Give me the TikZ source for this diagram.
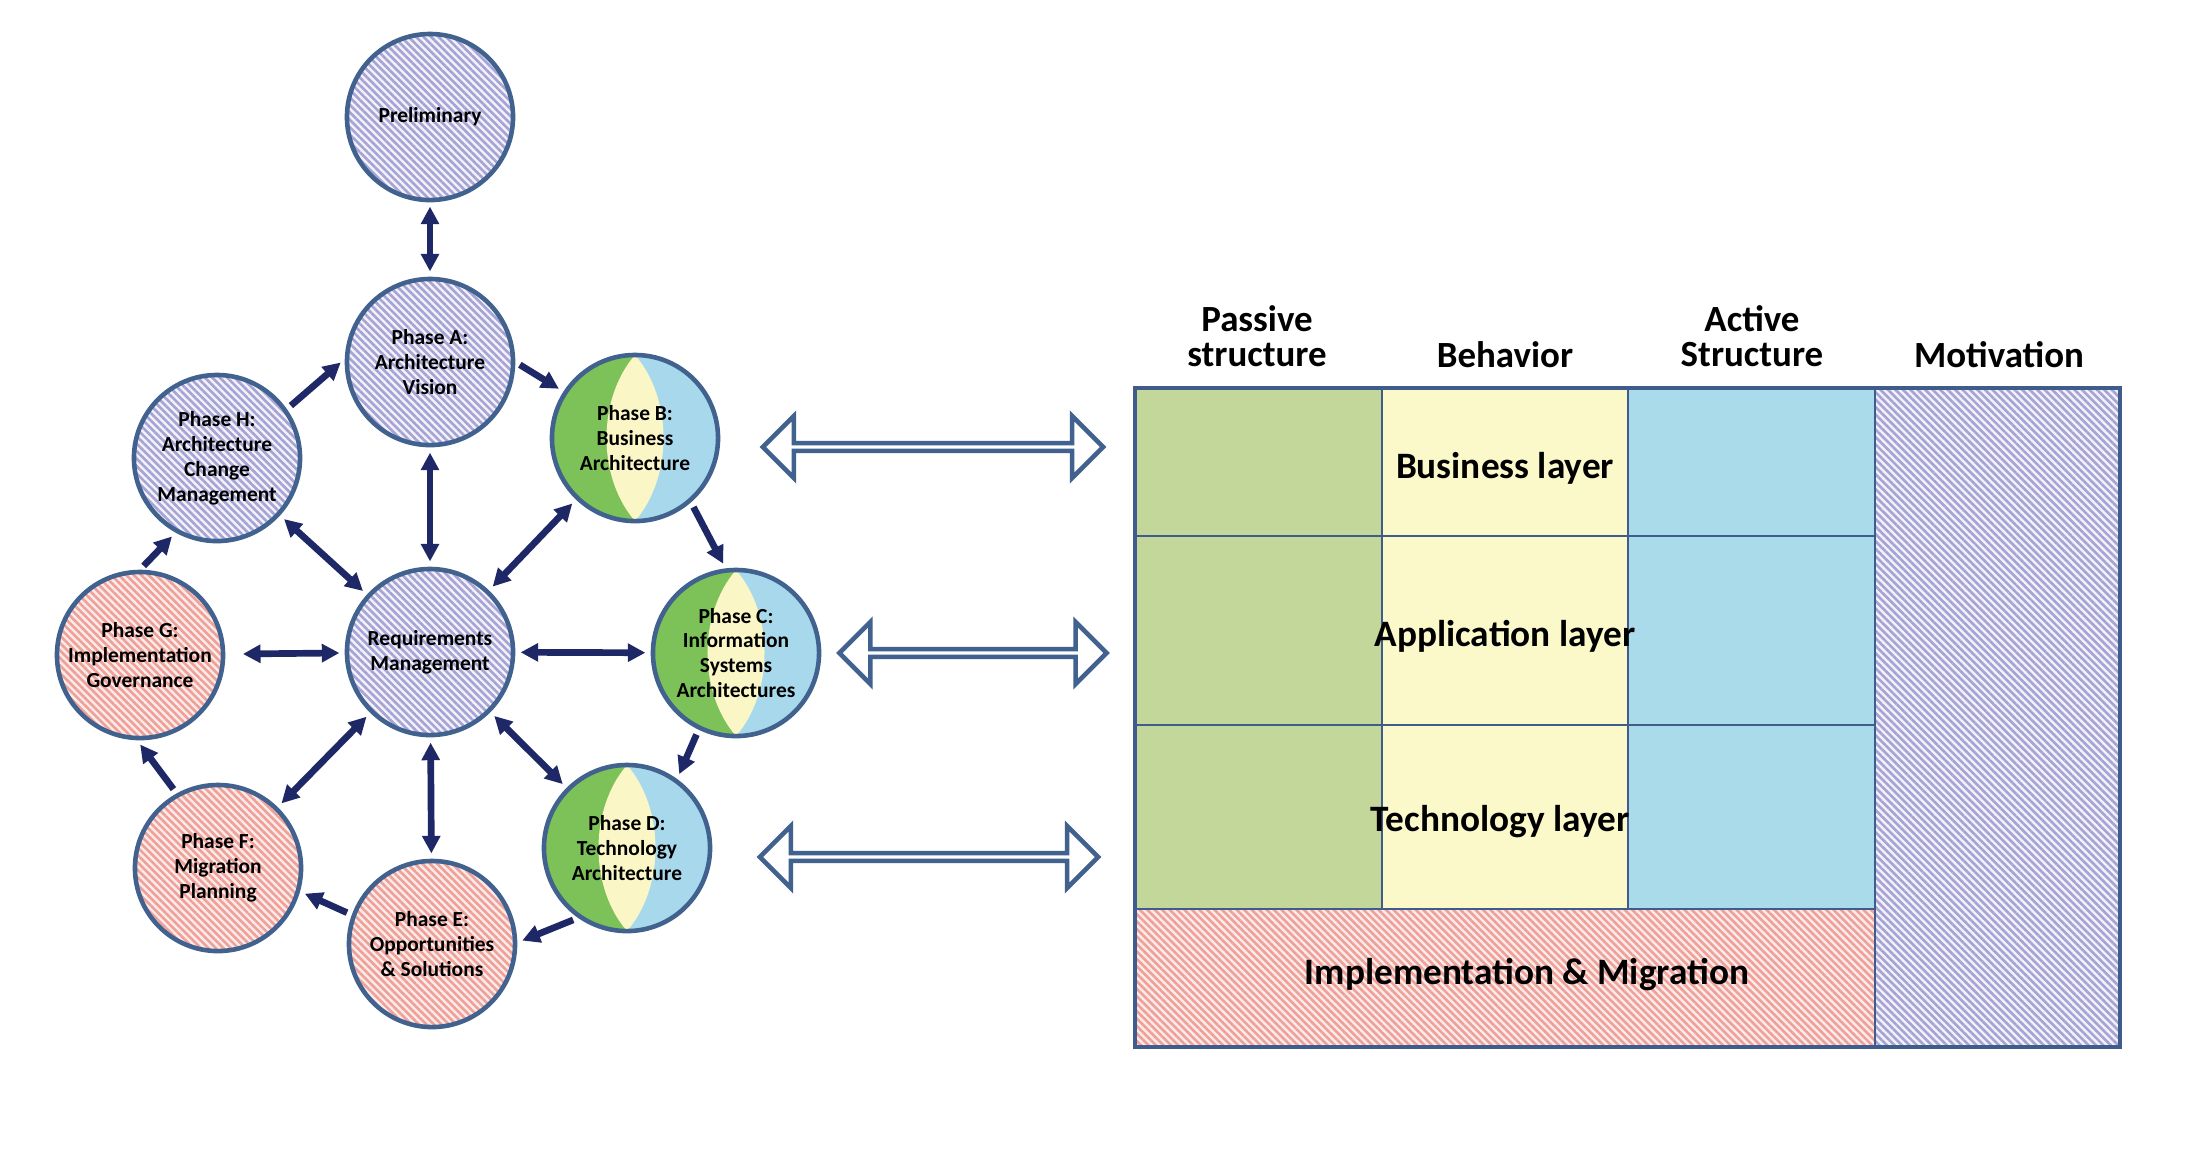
\documentclass[tikz,border=0pt]{standalone}
\usepackage{fontspec}
\setmainfont{Carlito}
\usetikzlibrary{arrows.meta,shapes.arrows,patterns.meta}

\definecolor{ringborder}{HTML}{41618F}
\definecolor{linkblue}{HTML}{1F2866}
\definecolor{gridline}{HTML}{3F5C8C}
\definecolor{passivegreen}{HTML}{C3D79B}
\definecolor{behavioryellow}{HTML}{FBF8CA}
\definecolor{activeblue}{HTML}{A9DBEA}
\definecolor{phasegreen}{HTML}{7DC159}
\definecolor{phaseyellow}{HTML}{FBF6C6}
\definecolor{phaseblue}{HTML}{A8D8EC}
\definecolor{hatchblue}{HTML}{A4A4D6}
\definecolor{hatchbackblue}{HTML}{F5F1F7}
\definecolor{hatchpink}{HTML}{EFA097}
\definecolor{hatchbackpink}{HTML}{FBECEB}

\tikzset{
  phase/.style={circle, draw=ringborder, line width=1.3pt, minimum size=1.66cm, inner sep=0pt,
    align=center, font=\bfseries\fontsize{6.1}{7.1}\selectfont},
  bluehatch/.style={preaction={fill=hatchbackblue},
    pattern={Lines[angle=-45,distance=1.5pt,line width=0.75pt]}, pattern color=hatchblue},
  pinkhatch/.style={preaction={fill=hatchbackpink},
    pattern={Lines[angle=-45,distance=1.5pt,line width=0.75pt]}, pattern color=hatchpink},
  archphase/.style={phase, path picture={
    \fill[phasegreen] (path picture bounding box.south west) rectangle (path picture bounding box.north);
    \fill[phaseblue] (path picture bounding box.south) rectangle (path picture bounding box.north east);
    \fill[phaseyellow] (path picture bounding box.north)
      .. controls ([xshift=-0.38cm,yshift=-0.44cm]path picture bounding box.north)
      and ([xshift=-0.38cm,yshift=0.44cm]path picture bounding box.south) .. (path picture bounding box.south)
      .. controls ([xshift=0.38cm,yshift=0.44cm]path picture bounding box.south)
      and ([xshift=0.38cm,yshift=-0.44cm]path picture bounding box.north) .. (path picture bounding box.north);
    }},
  flow/.style={draw=linkblue, line width=1.9pt, shorten >=1.5pt, shorten <=1.5pt,
    -{Triangle[length=5pt,width=5pt]}},
  bothways/.style={flow, {Triangle[length=5pt,width=5pt]}-{Triangle[length=5pt,width=5pt]}},
  maplink/.style={double arrow, draw=ringborder, line width=1.3pt, fill=white, inner sep=0pt,
    minimum width=0.62cm, double arrow head extend=0.16cm},
  colhead/.style={align=center, font=\bfseries\fontsize{10.5}{10}\selectfont},
  layername/.style={font=\bfseries\fontsize{10.6}{12}\selectfont},
  cellline/.style={draw=gridline, line width=0.8pt}
}

\begin{document}
\begin{tikzpicture}[x=0.01cm, y=0.01cm]
  \fill[white] (0,0) rectangle (2206,-1150);
  \useasboundingbox (0,0) rectangle (2206,-1150);

  % TOGAF cycle
  \node[phase, bluehatch] (prelim) at (430,-117) {Preliminary};
  \node[phase, bluehatch] (phaseA) at (430,-362) {Phase A:\\Architecture\\Vision};
  \node[phase, bluehatch] (phaseH) at (217,-458) {Phase H:\\Architecture\\Change\\Management};
  \node[archphase] (phaseB) at (635,-438) {Phase B:\\Business\\Architecture};
  \node[phase, bluehatch] (reqmgmt) at (430,-652) {Requirements\\Management};
  \node[phase, pinkhatch] (phaseG) at (140,-655) {Phase G:\\Implementation\\Governance};
  \node[archphase] (phaseC) at (736,-653) {Phase C:\\Information\\Systems\\Architectures};
  \node[phase, pinkhatch] (phaseF) at (218,-868) {Phase F:\\Migration\\Planning};
  \node[archphase] (phaseD) at (627,-848) {Phase D:\\Technology\\Architecture};
  \node[phase, pinkhatch] (phaseE) at (432,-944) {Phase E:\\Opportunities\\\& Solutions};

  \draw[bothways] (prelim) -- (phaseA);
  \draw[flow] (phaseA.0) -- (phaseB.147);
  \draw[flow] (phaseB.311) -- (phaseC.97);
  \draw[flow] (phaseC.244) -- (phaseD.54);
  \draw[flow] (phaseD.235) -- (phaseE.1);
  \draw[flow] (phaseE.160) -- (phaseF.344);
  \draw[flow] (phaseF.119) -- (phaseG.268);
  \draw[flow] (phaseG.90) -- (phaseH.241);
  \draw[flow] (phaseH.35) -- (phaseA.178);
  \draw[bothways] (reqmgmt) -- (phaseA);
  \draw[bothways] (reqmgmt) -- (phaseB);
  \draw[bothways] (reqmgmt) -- (phaseC);
  \draw[bothways] (reqmgmt) -- (phaseD);
  \draw[bothways] (reqmgmt) -- (phaseE);
  \draw[bothways] (reqmgmt) -- (phaseF);
  \draw[bothways, shorten >=5pt] (reqmgmt) -- (phaseG);
  \draw[bothways] (reqmgmt) -- (phaseH);

  % mapping arrows
  \node[maplink, minimum height=3.4cm] (bizmap) at (933,-447) {};
  \node[maplink, minimum height=2.67cm] (appmap) at (973,-653) {};
  \node[maplink, minimum height=3.38cm] (techmap) at (929,-857) {};

  % ArchiMate framework
  \fill[passivegreen] (1135,-388) rectangle (1382,-909);
  \fill[behavioryellow] (1382,-388) rectangle (1628,-909);
  \fill[activeblue] (1628,-388) rectangle (1875,-909);
  \path[bluehatch] (1875,-388) rectangle (2120,-1047);
  \path[pinkhatch] (1135,-909) rectangle (1875,-1047);
  \draw[cellline] (1135,-536) -- (1875,-536);
  \draw[cellline] (1135,-725) -- (1875,-725);
  \draw[cellline] (1135,-909) -- (1875,-909);
  \draw[cellline] (1382,-388) -- (1382,-909);
  \draw[cellline] (1628,-388) -- (1628,-909);
  \draw[cellline] (1875,-388) -- (1875,-1047);
  \draw[cellline, line width=1pt] (1135,-388) rectangle (2120,-1047);

  \node[colhead] (passivehead) at (1257,-336) {Passive\\structure};
  \node[colhead] (behaviorhead) at (1505,-355) {Behavior};
  \node[colhead] (activehead) at (1752,-336) {Active\\Structure};
  \node[colhead] (motivationhead) at (1999,-355) {Motivation};

  \node[layername] (bizlayer) at (1505,-468) {Business layer};
  \node[layername] (applayer) at (1505,-636) {Application layer};
  \node[layername] (techlayer) at (1500,-822) {Technology layer};
  \node[layername] (implmig) at (1527,-975) {Implementation \& Migration};
\end{tikzpicture}
\end{document}
